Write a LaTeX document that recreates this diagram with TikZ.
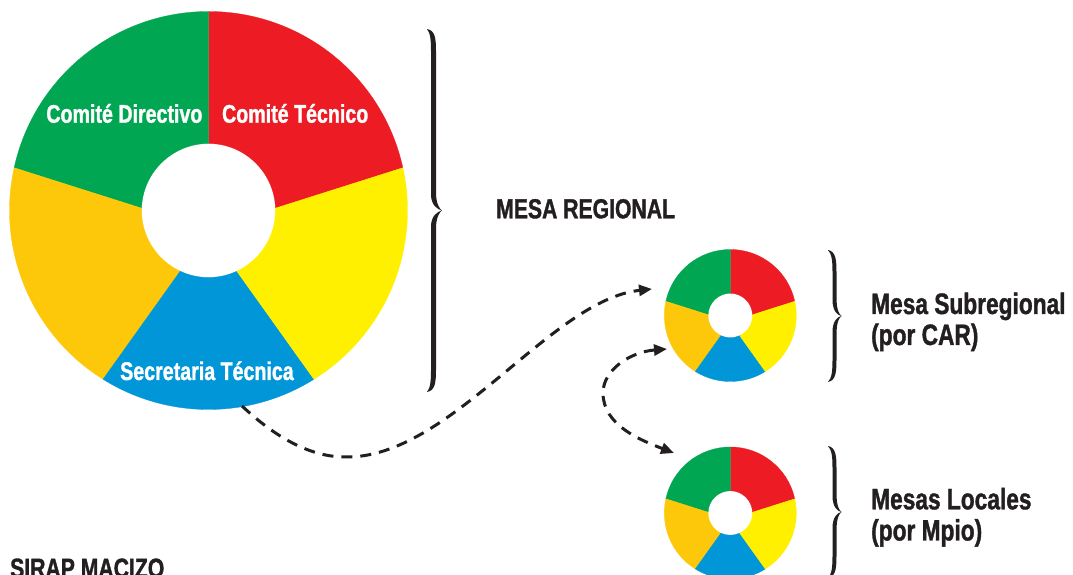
\documentclass[tikz,border=0pt]{standalone}
\usepackage{fontspec}
\newfontfamily\condfont{Liberation Sans}[FakeStretch=0.77, BoldFeatures={FakeBold=1.2}]
\usetikzlibrary{arrows.meta,calc}
\definecolor{segGreen}{RGB}{0,166,81}
\definecolor{segRed}{RGB}{237,28,36}
\definecolor{segYellow}{RGB}{255,240,0}
\definecolor{segOrange}{RGB}{254,200,10}
\definecolor{segBlue}{RGB}{0,150,216}
\definecolor{inkBlack}{RGB}{35,31,32}
\tikzset{
  seg/.style={line width=0.3pt, line join=round},
  donut/.pic={
    \fill[seg, segRed, draw=segRed] (2:67) -- (12.4:199) arc[start angle=12.4, end angle=90, radius=199] -- (90:67) arc[start angle=90, end angle=2, radius=67] -- cycle;
    \fill[seg, segGreen, draw=segGreen] (90:67) -- (90:199) arc[start angle=90, end angle=167.6, radius=199] -- (178:67) arc[start angle=178, end angle=90, radius=67] -- cycle;
    \fill[seg, segOrange, draw=segOrange] (178:67) -- (167.6:199) arc[start angle=167.6, end angle=238, radius=199] -- (245:67) arc[start angle=245, end angle=178, radius=67] -- cycle;
    \fill[seg, segBlue, draw=segBlue] (245:67) -- (238:199) arc[start angle=238, end angle=302, radius=199] -- (295:67) arc[start angle=295, end angle=245, radius=67] -- cycle;
    \fill[seg, segYellow, draw=segYellow] (-65:67) -- (-58:199) arc[start angle=-58, end angle=12.4, radius=199] -- (2:67) arc[start angle=2, end angle=-65, radius=67] -- cycle;
  },
  lblw/.style={font=\condfont\bfseries\fontsize{25.5bp}{28bp}\selectfont, text=white, inner sep=0pt, anchor=base},
  lblk/.style={font=\condfont\bfseries\fontsize{29.5bp}{31bp}\selectfont, text=inkBlack, inner sep=0pt, anchor=base west},
  lblh/.style={font=\condfont\bfseries\fontsize{27.5bp}{30bp}\selectfont, text=inkBlack, inner sep=0pt, anchor=base west},
  dasharrow/.style={draw=inkBlack, line width=3bp, dash pattern=on 11bp off 8bp},
  bracefill/.style={fill=inkBlack}
}
\newcommand\curlybrace[6]{% #1 x of curl end, #2 centre y, #3 half height, #4 arm offset, #5 tip offset, #6 arm width
  \pgfmathsetmacro\brR{#4+#6/2}
  \pgfmathsetmacro\brL{#4-#6/2}
  \pgfmathsetmacro\brT{#4+#5}
  \pgfmathsetmacro\brH{#3}
  \fill[bracefill, shift={(#1,#2)}]
    (0,\brH)
    .. controls ({\brR-1},{\brH-1.5}) and (\brR,{\brH-9}) .. (\brR,{\brH-22})
    -- (\brR,18)
    .. controls (\brR,7) and ({\brT-2.5},1.5) .. (\brT,0)
    .. controls ({\brT-2.5},-1.5) and (\brR,-7) .. (\brR,-18)
    -- (\brR,{-\brH+22})
    .. controls (\brR,{-\brH+9}) and ({\brR-1},{-\brH+1.5}) .. (0,{-\brH})
    .. controls ({\brL-0.5},{-\brH+4}) and (\brL,{-\brH+12}) .. (\brL,{-\brH+22})
    -- (\brL,-16)
    .. controls (\brL,-5) and ({\brT-4},-0.8) .. (\brT,0)
    .. controls ({\brT-4},0.8) and (\brL,5) .. (\brL,16)
    -- (\brL,{\brH-22})
    .. controls (\brL,{\brH-12}) and ({\brL-0.5},{\brH-4}) .. (0,\brH) -- cycle;
}
\begin{document}
\begin{tikzpicture}[x=1bp, y=1bp, >={Triangle[length=13bp,width=11bp]}]
\useasboundingbox (0,0) rectangle (1073,575);
\fill[white] (0,0) rectangle (1073,575);
\coordinate (big) at (208.5,364.5);
\coordinate (sub) at (730.3,259.5);
\coordinate (loc) at (730.3,62);
% donuts
\pic at (big) {donut};
\pic[transform shape, scale=0.3317] at (sub) {donut};
\pic[transform shape, scale=0.3317] at (loc) {donut};
% labels inside the big donut
\node[lblw] (cdir) at (124.4,452.3) {Comité Directivo};
\node[lblw] (ctec) at (295.2,452.3) {Comité Técnico};
\node[lblw] (stec) at (207,195) {Secretaria Técnica};
% braces
\curlybrace{427}{364.5}{181.5}{6.5}{8.5}{5}
\curlybrace{828}{259}{66}{6.5}{7}{4}
\curlybrace{828}{63}{66}{6.5}{7}{4}
% outside labels
\node[lblh] (mreg) at (496,356.7) {MESA REGIONAL};
\node[lblk] (msub1) at (871,261) {Mesa Subregional};
\node[lblk] (msub2) at (871,230) {(por CAR)};
\node[lblk] (mloc1) at (871,65.7) {Mesas Locales};
\node[lblk] (mloc2) at (871,34.5) {(por Mpio)};
\node[lblh] (sirap) at (10,-2.7) {SIRAP MACIZO};
% connectors
\coordinate (a1s) at (242,169);
\coordinate (a1e) at (652,286);
\coordinate (a2s) at (667,226);
\coordinate (a2e) at (674,122);
\draw[dasharrow, ->] (a1s) .. controls (275,138) and (310,118) .. (345,118)
  .. controls (450,116) and (550,275) .. (a1e);
\draw[dasharrow, <->] (a2s) .. controls (630,223) and (603,205) .. (603,182)
  .. controls (603,150) and (640,135) .. (a2e);
\end{tikzpicture}
\end{document}
